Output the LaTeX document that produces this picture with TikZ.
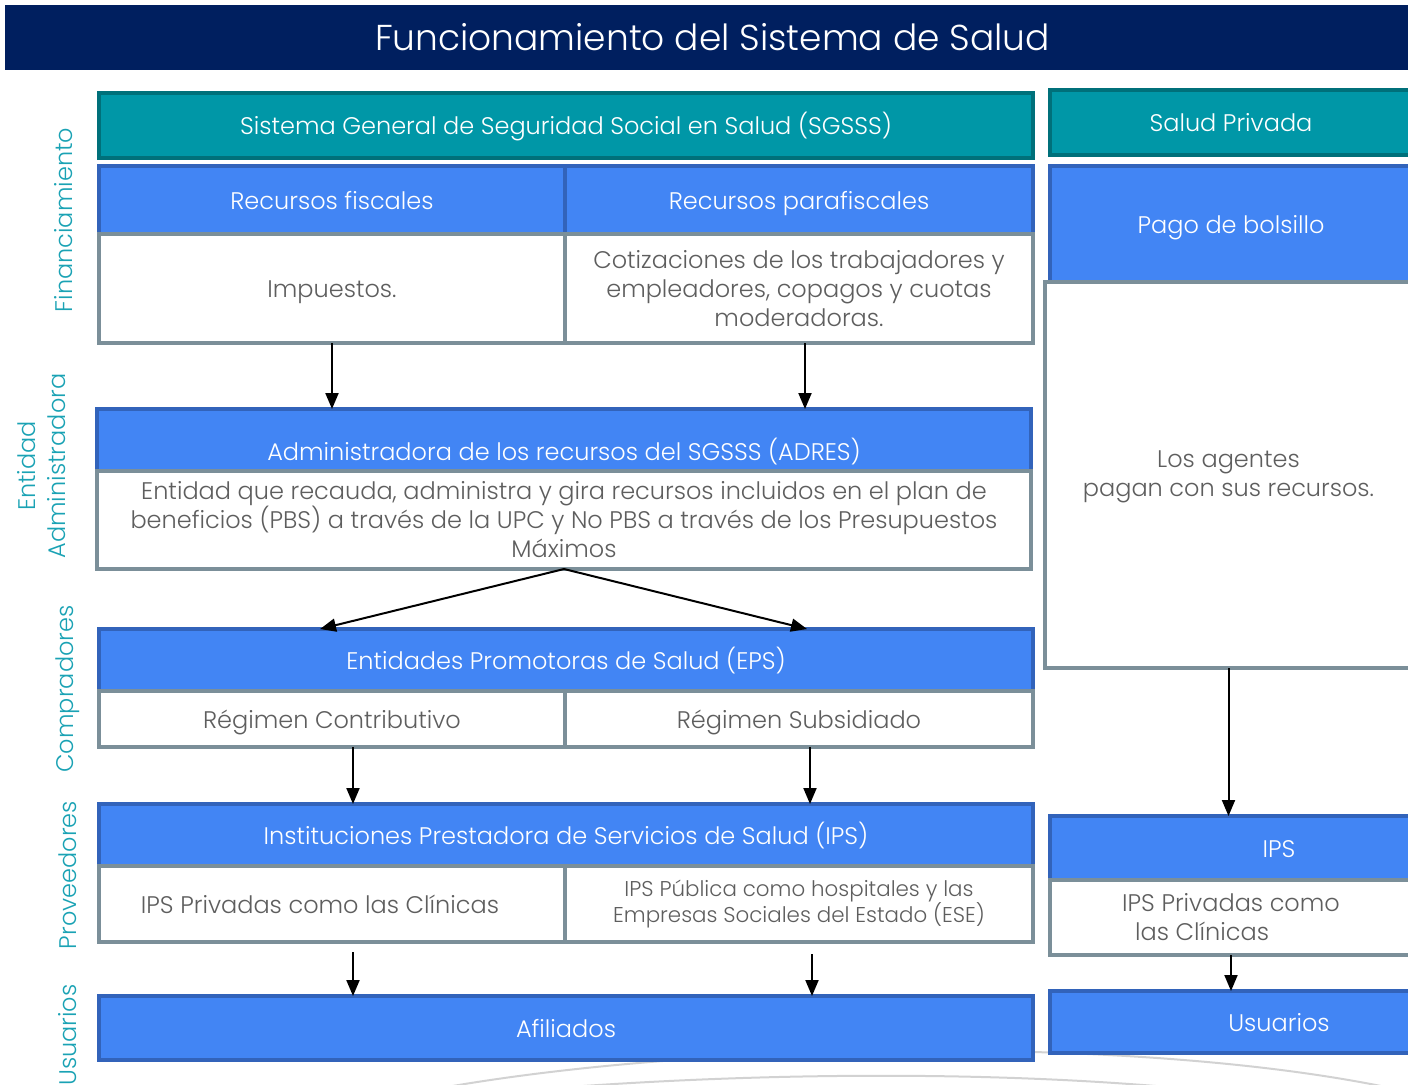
\documentclass[tikz,border=0pt]{standalone}
\usepackage{fontspec}
\setmainfont{Poppins Light}
\usetikzlibrary{positioning,arrows.meta}
\definecolor{navy}{HTML}{001F5F}
\definecolor{teal1}{HTML}{0097A7}
\definecolor{teal2}{HTML}{00707A}
\definecolor{lbl}{HTML}{1AA2B4}
\definecolor{blu1}{HTML}{4285F4}
\definecolor{blu2}{HTML}{3263BA}
\definecolor{gry}{HTML}{7B8F99}
\definecolor{txt}{HTML}{5E5E5E}

\begin{document}
\begin{tikzpicture}[x=0.5pt,y=-0.5pt,
	box/.style={rectangle,outer sep=0pt,inner sep=2pt,line width=2pt,align=center,font=\fontsize{12}{14.5}\selectfont},
	one/.style={text height=11pt,text depth=2pt},
	tbox/.style={box,one,fill=teal1,draw=teal2,text=white},
	bbox/.style={box,fill=blu1,draw=blu2,text=white},
	wbox/.style={box,fill=white,draw=gry,text=txt},
	side/.style={rotate=90,text=lbl,align=center,font=\fontsize{12}{15}\selectfont},
	arr/.style={line width=1pt,-{Triangle[width=6.5pt,length=8pt]}}]
	\useasboundingbox (0,0) rectangle (1408,1084);
	\clip (0,0) rectangle (1408,1084);

	\draw[gray!35,line width=1pt] (430,1090) .. controls (700,1040) and (1150,1035) .. (1400,1090);
	\draw[gray!35,line width=1pt] (530,1090) .. controls (750,1072) and (1000,1070) .. (1200,1090);

	\node[fill=navy,text=white,outer sep=0pt,minimum width=701.5pt,minimum height=32.5pt,anchor=north west,font=\fontsize{18}{22}\selectfont] (t) at (5,5) {\hspace*{6pt}Funcionamiento del Sistema de Salud};

	\node[tbox,minimum width=467pt,minimum height=32.5pt,anchor=north west] (sg) at (99,93) {Sistema General de Seguridad Social en Salud (SGSSS)};
	\node[bbox,one,minimum width=233pt,minimum height=34pt,anchor=north west] (f1) at (99,166) {Recursos fiscales};
	\node[bbox,one,minimum width=234pt,minimum height=34pt,right=0pt of f1] (f2) {Recursos parafiscales};
	\node[wbox,one,minimum width=233pt,minimum height=54.5pt,below=0pt of f1] (w1) {Impuestos.};
	\node[wbox,minimum width=234pt,minimum height=54.5pt,below=0pt of f2] (w2) {Cotizaciones de los trabajadores y\\empleadores, copagos y cuotas\\moderadoras.};

	\node[tbox,minimum width=181pt,minimum height=32.5pt,anchor=north west] (sp) at (1050,90) {Salud Privada};
	\node[bbox,one,minimum width=181pt,minimum height=58pt,anchor=north west] (pb) at (1050,166) {Pago de bolsillo};
	\node[wbox,minimum width=183.5pt,minimum height=193pt,anchor=north west] (ag) at (1045,282) {\strut Los agentes\\pagan con sus recursos.};

	\node[bbox,minimum width=467pt,minimum height=31pt,anchor=north west] (ad) at (97,409) {};
	\node[text=white,one,font=\fontsize{12}{14.5}\selectfont] (adt) at ([yshift=-5.5pt]ad.center) {Administradora de los recursos del SGSSS (ADRES)};
	\node[wbox,minimum width=467pt,minimum height=49pt,below=0pt of ad] (adw) {Entidad que recauda, administra y gira recursos incluidos en el plan de\\beneficios (PBS) a través de la UPC y No PBS a través de los Presupuestos\\Máximos};

	\node[bbox,one,minimum width=467pt,minimum height=31pt,anchor=north west] (ep) at (99,629) {Entidades Promotoras de Salud (EPS)};
	\node[wbox,one,minimum width=233pt,minimum height=28pt,below right=0pt and 0pt of ep.south west] (r1) {Régimen Contributivo};
	\node[wbox,one,minimum width=234pt,minimum height=28pt,right=0pt of r1] (r2) {Régimen Subsidiado};

	\node[bbox,one,minimum width=467pt,minimum height=31pt,anchor=north west] (ip) at (99,804) {Instituciones Prestadora de Servicios de Salud (IPS)};
	\node[wbox,one,minimum width=233pt,minimum height=38pt,below right=0pt and 0pt of ip.south west] (p1) {IPS Privadas como las Clínicas\hspace*{12pt}};
	\node[wbox,minimum width=234pt,minimum height=38pt,right=0pt of p1,font=\fontsize{10.7}{12.8}\selectfont] (p2) {IPS Pública como hospitales y las\\Empresas Sociales del Estado (ESE)};

	\node[bbox,one,minimum width=467pt,minimum height=32pt,anchor=north west] (af) at (99,996) {Afiliados};

	\node[bbox,one,minimum width=229pt,minimum height=32pt,anchor=north west] (ipr) at (1050,816) {IPS};
	\node[wbox,minimum width=181pt,minimum height=37.5pt,anchor=north west,align=left] (ipw) at (1050,880) {IPS Privadas como\\\hspace*{6.5pt}las Clínicas};
	\node[bbox,one,minimum width=229pt,minimum height=31pt,anchor=north west] (us) at (1050,991) {Usuarios};

	\node[side] (s1) at (64,220) {Financiamiento};
	\node[side] (s2) at (42,466) {Entidad\\Administradora};
	\node[side] (s3) at (68,689) {Compradores};
	\node[side] (s4) at (68,875) {Proveedores};
	\node[side] (s5) at (68,1035) {Usuarios};

	\draw[arr] (w1.south) -- (w1.south |- ad.north);
	\draw[arr] ([xshift=3pt]w2.south) -- ([xshift=3pt]w2.south |- ad.north);
	\draw[arr] (adw.south) -- ([xshift=-6pt]r1 |- ep.north);
	\draw[arr] (adw.south) -- ([xshift=4pt]r2 |- ep.north);
	\draw[arr] ([xshift=10.5pt]r1.south) -- ([xshift=10.5pt]r1.south |- ip.north);
	\draw[arr] ([xshift=5.5pt]r2.south) -- ([xshift=5.5pt]r2.south |- ip.north);
	\draw[arr] ([xshift=10.5pt,yshift=-5pt]p1.south) -- ([xshift=10.5pt]p1.south |- af.north);
	\draw[arr] ([xshift=6.5pt,yshift=-6pt]p2.south) -- ([xshift=6.5pt]p2.south |- af.north);
	\draw[arr] (ag.south) -- (ag.south |- ipr.north);
	\draw[arr] (ipw.south) -- (ipw.south |- us.north);
\end{tikzpicture}
\end{document}
